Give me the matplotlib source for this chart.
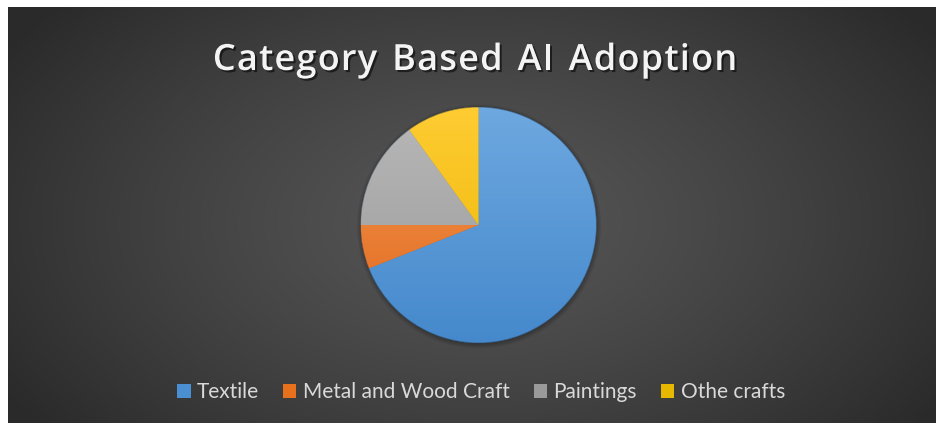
import numpy as np
import matplotlib
matplotlib.use("Agg")
import matplotlib.pyplot as plt
import matplotlib.patheffects as pe
from matplotlib.patches import Patch, Circle
from matplotlib.colors import LinearSegmentedColormap

categories = ["Textile", "Metal and Wood Craft", "Paintings", "Othe crafts"]
shares = [69, 6, 15, 10]
# light top / dark bottom for each slice, plus the flat legend colour
top_colors = ["#6ea8e0", "#f59a55", "#b8b8b8", "#ffcc33"]
bottom_colors = ["#4589cc", "#e0661a", "#999999", "#eab500"]
legend_colors = ["#4a8fd2", "#e8711d", "#9a9a9a", "#e8b800"]

W, H = 936, 423
fig = plt.figure(figsize=(W / 100, H / 100), dpi=100)
fig.patch.set_facecolor("white")

# dark panel with a soft radial glow in the middle
bg = fig.add_axes([8 / W, 0, (W - 8) / W, (H - 7) / H])
bg.set_axis_off()
yy, xx = np.mgrid[0:416, 0:928]
cx, cy = 470, 215
r = np.sqrt(((xx - cx) / 560.0) ** 2 + ((yy - cy) / 330.0) ** 2)
r = np.clip(r, 0, 1)
lum = 0.335 - 0.17 * r ** 1.3
bg.imshow(np.dstack([lum, lum, lum]), aspect="auto", extent=[0, 1, 0, 1])
bg.set_xlim(0, 1)
bg.set_ylim(0, 1)

# title, spread out a little letter by letter
title = "Category Based AI Adoption"
title_kw = dict(fontsize=26, fontweight="semibold", family="Open Sans",
                color="#f4f4f4", va="baseline", ha="left",
                path_effects=[pe.withSimplePatchShadow(offset=(1.5, -1.5),
                                                       shadow_rgbFace="black",
                                                       alpha=0.55)])
renderer = fig.canvas.get_renderer()
tracking = 1.2
widths = []
for ch in title:
    t = fig.text(0, 0, ch if ch != " " else "n", **title_kw)
    bb = t.get_window_extent(renderer)
    w = bb.width if ch != " " else bb.width * 0.55
    widths.append(w)
    t.remove()
total = sum(widths) + tracking * (len(title) - 1)
x = 475 - total / 2
for ch, w in zip(title, widths):
    if ch != " ":
        fig.text(x / W, (H - 70) / H, ch, **title_kw)
    x += w + tracking

# pie
R = 118.0
half = R * 1.2
pcx, pcy = 478.5, H - 225
ax = fig.add_axes([(pcx - half) / W, (pcy - half) / H, 2 * half / W, 2 * half / H])
ax.set_axis_off()

for a in np.linspace(0.035, 0.0, 5):
    ax.add_patch(Circle((0.005, -0.012), 1.0 + a, color="black",
                        alpha=0.05, lw=0, zorder=0))

wedges, _ = ax.pie(shares, startangle=90, counterclock=False,
                   colors=bottom_colors, radius=1.0,
                   wedgeprops=dict(edgecolor="none", linewidth=0))
grad = np.linspace(1, 0, 256).reshape(-1, 1)
for w, c_top, c_bot in zip(wedges, top_colors, bottom_colors):
    cmap = LinearSegmentedColormap.from_list("g", [c_bot, c_top])
    im = ax.imshow(grad, cmap=cmap, extent=[-1, 1, -1, 1], aspect="auto",
                   zorder=2, vmin=0, vmax=1)
    im.set_clip_path(w)
ax.add_patch(Circle((0, 0), 1.0, fill=False, edgecolor="#2c3a4a",
                    lw=0.7, alpha=0.5, zorder=3))
ax.set_xlim(-1.2, 1.2)
ax.set_ylim(-1.2, 1.2)

handles = [Patch(facecolor=c, edgecolor="none") for c in legend_colors]
leg = fig.legend(handles, categories, loc="center", ncol=4,
                 bbox_to_anchor=(481 / W, (H - 392) / H),
                 frameon=False, handlelength=0.65, handleheight=0.65,
                 handletextpad=0.3, columnspacing=1.15,
                 prop={"family": "Lato", "size": 15})
for t in leg.get_texts():
    t.set_color("#d9d9d9")

fig.savefig("out.png", dpi=100, facecolor=fig.get_facecolor())
